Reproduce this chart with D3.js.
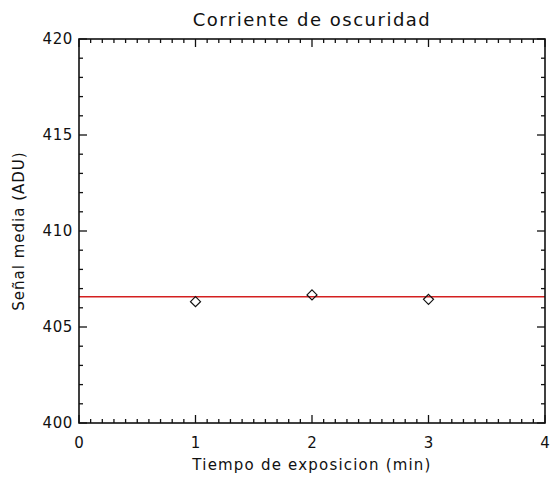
<!DOCTYPE html>
<html>
<head>
<meta charset="utf-8">
<script src="https://cdn.jsdelivr.net/npm/d3@7"></script>
<style>
  html, body { margin: 0; padding: 0; background: #fff; }
  svg { display: block; }
  text { font-family: "DejaVu Sans", sans-serif; fill: #111; }
</style>
</head>
<body>
<div id="chart"></div>
<script>
// Dark-current measurements: mean signal per exposure time
const exposureMin = [1, 2, 3];
const meanSignal = [406.32, 406.67, 406.44];
// Horizontal fit level across the whole exposure range
const fitLevel = 406.57;
const xTicks = [0, 1, 2, 3, 4];
const yTicks = [400, 405, 410, 415, 420];

const W = 550, H = 478;
const margin = { left: 79, right: 5, top: 39, bottom: 55 };

const svg = d3.select("#chart").append("svg")
  .attr("width", W).attr("height", H);

const x = d3.scaleLinear().domain([0, 4]).range([margin.left, W - margin.right]);
const y = d3.scaleLinear().domain([400, 420]).range([H - margin.bottom, margin.top]);

const x0 = x.range()[0], x1 = x.range()[1];
const y0 = y.range()[0], y1 = y.range()[1];

// Minor tick positions
const xMinor = d3.range(0, 41).map(i => i / 10).filter(v => !xTicks.includes(Math.round(v * 10) / 10));
const yMinor = d3.range(400, 421).filter(v => !yTicks.includes(v));

const g = svg.append("g");

function ticks(data, fn, len) {
  g.selectAll(null).data(data).enter().append("line")
    .each(function (d) { fn(d3.select(this), d, len); })
    .attr("stroke", "#111").attr("stroke-width", 1.3);
}
// Ticks on all four sides, pointing inward
const bottomT = (s, d, l) => s.attr("x1", x(d)).attr("x2", x(d)).attr("y1", y0).attr("y2", y0 - l);
const topT = (s, d, l) => s.attr("x1", x(d)).attr("x2", x(d)).attr("y1", y1).attr("y2", y1 + l);
const leftT = (s, d, l) => s.attr("y1", y(d)).attr("y2", y(d)).attr("x1", x0).attr("x2", x0 + l);
const rightT = (s, d, l) => s.attr("y1", y(d)).attr("y2", y(d)).attr("x1", x1).attr("x2", x1 - l);

ticks(xTicks, bottomT, 8); ticks(xMinor, bottomT, 4);
ticks(xTicks, topT, 8); ticks(xMinor, topT, 4);
ticks(yTicks, leftT, 8); ticks(yMinor, leftT, 4);
ticks(yTicks, rightT, 8); ticks(yMinor, rightT, 4);

// Fit line
g.append("line")
  .attr("x1", x(0)).attr("x2", x(4))
  .attr("y1", y(fitLevel)).attr("y2", y(fitLevel))
  .attr("stroke", "#d42020").attr("stroke-width", 1.5);

// Diamond markers
const dsize = 5;
g.selectAll(".pt").data(exposureMin.map((t, i) => [t, meanSignal[i]])).enter()
  .append("path").attr("class", "pt")
  .attr("d", d => {
    const cx = x(d[0]), cy = y(d[1]);
    return `M${cx},${cy - dsize}L${cx + dsize},${cy}L${cx},${cy + dsize}L${cx - dsize},${cy}Z`;
  })
  .attr("fill", "none").attr("stroke", "#111").attr("stroke-width", 1.2);

// Frame
g.append("rect")
  .attr("x", x0).attr("y", y1).attr("width", x1 - x0).attr("height", y0 - y1)
  .attr("fill", "none").attr("stroke", "#111").attr("stroke-width", 1.6);

// Tick labels
g.selectAll(".xl").data(xTicks).enter().append("text")
  .attr("x", d => x(d)).attr("y", y0 + 25)
  .attr("text-anchor", "middle").attr("font-size", 15)
  .text(d => d);
g.selectAll(".yl").data(yTicks).enter().append("text")
  .attr("x", x0 - 6).attr("y", d => y(d) + 5)
  .attr("text-anchor", "end").attr("font-size", 15).attr("letter-spacing", 0.6)
  .text(d => d);

// Titles
svg.append("text").attr("x", (x0 + x1) / 2).attr("y", 26)
  .attr("text-anchor", "middle").attr("font-size", 18).attr("letter-spacing", 1.5)
  .text("Corriente de oscuridad");
svg.append("text").attr("x", (x0 + x1) / 2).attr("y", 470)
  .attr("text-anchor", "middle").attr("font-size", 15).attr("letter-spacing", 1.2)
  .text("Tiempo de exposicion (min)");
svg.append("text")
  .attr("transform", `translate(24,${(y0 + y1) / 2}) rotate(-90)`)
  .attr("text-anchor", "middle").attr("font-size", 15).attr("letter-spacing", 1)
  .text("Señal media (ADU)");
</script>
</body>
</html>
